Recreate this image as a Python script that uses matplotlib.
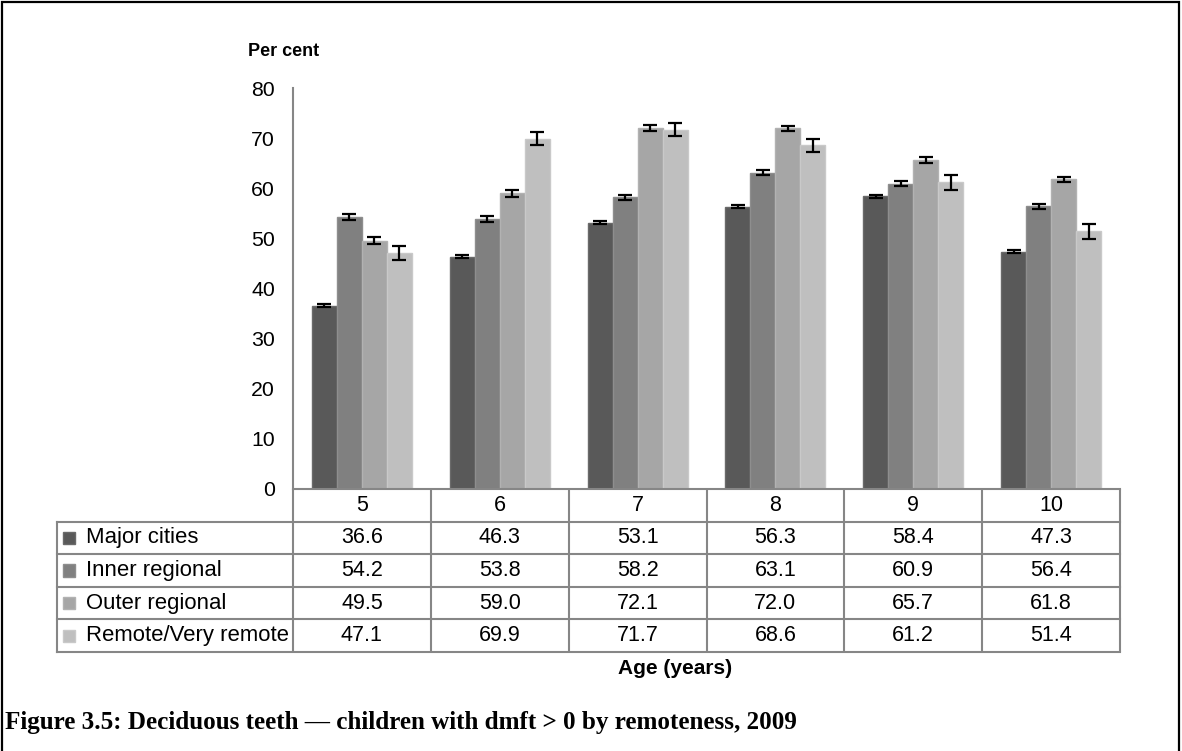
import matplotlib
matplotlib.use("Agg")
import matplotlib.pyplot as plt
import matplotlib.patches as mpatches
import numpy as np

# ---- data ----
ages = ["5", "6", "7", "8", "9", "10"]
series_names = ["Major cities", "Inner regional", "Outer regional", "Remote/Very remote"]
major = [36.6, 46.3, 53.1, 56.3, 58.4, 47.3]
inner = [54.2, 53.8, 58.2, 63.1, 60.9, 56.4]
outer = [49.5, 59.0, 72.1, 72.0, 65.7, 61.8]
remote = [47.1, 69.9, 71.7, 68.6, 61.2, 51.4]
err_major = [0.3, 0.3, 0.3, 0.3, 0.3, 0.3]
err_inner = [0.6, 0.6, 0.5, 0.5, 0.5, 0.5]
err_outer = [0.7, 0.7, 0.6, 0.5, 0.6, 0.5]
err_remote = [1.4, 1.3, 1.3, 1.3, 1.5, 1.5]
yticks = [0, 10, 20, 30, 40, 50, 60, 70, 80]

values = [major, inner, outer, remote]
errors = [err_major, err_inner, err_outer, err_remote]
colors = ["#595959", "#808080", "#a6a6a6", "#bfbfbf"]
edgecols = ["#6a6a6a", "#8e8e8e", "#b2b2b2", "#c9c9c9"]

plt.rcParams['font.family'] = ['Liberation Sans', 'DejaVu Sans']

W, H = 1182, 751
fig = plt.figure(figsize=(W / 100, H / 100), dpi=100)

def fx(px):
    return px / W

def fy(py):
    return 1 - py / H

left_px, right_px, top_px, bot_px = 293, 1120, 88, 489
ax = fig.add_axes([fx(left_px), fy(bot_px), fx(right_px) - fx(left_px), fy(top_px) - fy(bot_px)])

x = np.arange(len(ages))
bw = 0.1814
for i, (vals, errs) in enumerate(zip(values, errors)):
    xs = x + (i - 1.5) * bw
    ax.bar(xs, vals, width=bw, color=colors[i], edgecolor=edgecols[i], linewidth=1.0, zorder=2)
    ax.errorbar(xs, vals, yerr=errs, fmt='none', ecolor='black', elinewidth=1.6,
                capsize=5, capthick=1.6, zorder=3)

ax.set_xlim(-0.5, len(ages) - 0.5)
ax.set_ylim(0, 80)
ax.set_yticks(yticks)
ax.set_yticklabels([str(t) for t in yticks], fontsize=15.3)
ax.set_xticks([])
ax.tick_params(axis='y', length=0, pad=13)
for s in ['top', 'right']:
    ax.spines[s].set_visible(False)
for s in ['left', 'bottom']:
    ax.spines[s].set_color('#868686')
    ax.spines[s].set_linewidth(1.5)

fig.text(fx(248), fy(52), "Per cent", fontsize=13, fontweight='bold', ha='left', va='center')

# ---- data table ----
tab_left_px, tab_bot_px = 57, 652
tax = fig.add_axes([fx(tab_left_px), fy(tab_bot_px), fx(right_px) - fx(tab_left_px), fy(bot_px) - fy(tab_bot_px)])
unit_px = (right_px - left_px) / len(ages)
xl = -0.5 - (left_px - tab_left_px) / unit_px
tax.set_xlim(xl, len(ages) - 0.5)
nrows = len(series_names) + 1
tax.set_ylim(nrows, 0)
tax.axis('off')
lc = '#868686'
lw = 1.5
for k in range(len(ages) + 1):
    tax.plot([k - 0.5, k - 0.5], [0, nrows], color=lc, lw=lw, clip_on=False, solid_capstyle='butt')
tax.plot([xl, xl], [1, nrows], color=lc, lw=lw, clip_on=False)
for r in range(1, nrows + 1):
    tax.plot([xl, len(ages) - 0.5], [r, r], color=lc, lw=lw, clip_on=False)
for k, a in enumerate(ages):
    tax.text(k, 0.5, a, ha='center', va='center', fontsize=15.5)
sq = 12 / unit_px
for r, name in enumerate(series_names):
    yc = r + 1.5
    for k in range(len(ages)):
        tax.text(k, yc, f"{values[r][k]:.1f}", ha='center', va='center', fontsize=15.5)
    kx = xl + 6.5 / unit_px
    tax.add_patch(mpatches.Rectangle((kx, yc - 0.19), sq, 0.38, facecolor=colors[r],
                                     edgecolor=edgecols[r], lw=1.0, clip_on=False))
    tax.text(xl + 29 / unit_px, yc, name, ha='left', va='center', fontsize=15.9)

fig.text(fx(675), fy(668), "Age (years)", fontsize=15, fontweight='bold', ha='center', va='center')

fig.text(fx(5), fy(722), "Figure 3.5: Deciduous teeth \u2014 children with dmft > 0 by remoteness, 2009",
         fontsize=18.1, fontweight='bold', family=['Liberation Serif', 'DejaVu Serif'],
         ha='left', va='center')

fig.add_artist(mpatches.Rectangle((fx(2), fy(760)), fx(1179) - fx(2), fy(2) - fy(760),
                                  transform=fig.transFigure, fill=False, edgecolor='black',
                                  lw=1.6, clip_on=False))

fig.savefig("out.png", dpi=100)
